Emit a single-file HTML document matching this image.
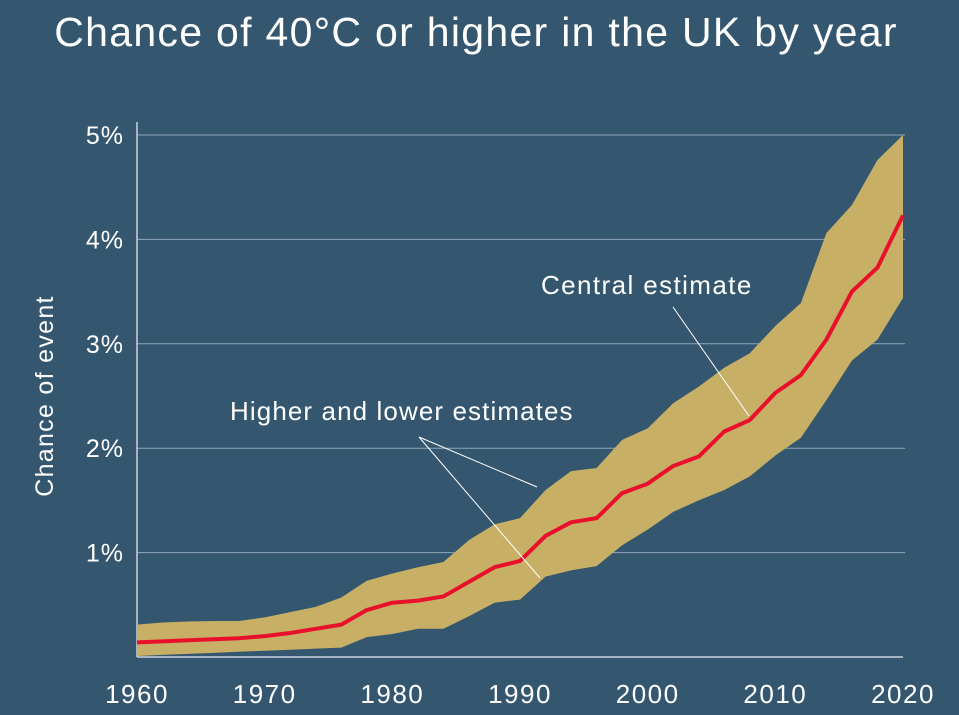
<!DOCTYPE html>
<html><head><meta charset="utf-8">
<style>
html,body{margin:0;padding:0;background:#34576f;}
svg{display:block;font-family:"Liberation Sans",sans-serif;}
</style></head>
<body>
<svg id="chart" width="959" height="715" viewBox="0 0 959 715" xmlns="http://www.w3.org/2000/svg">
<rect width="959" height="715" fill="#34576f"/>
<text x="476" y="46" text-anchor="middle" font-size="41" letter-spacing="1.3" fill="#ffffff">Chance of 40°C or higher in the UK by year</text>
<text transform="translate(53,396) rotate(-90)" text-anchor="middle" font-size="25" letter-spacing="1.3" fill="#ffffff">Chance of event</text>
<g id="grid"></g>
<g id="marks"></g>
<g id="annot"></g>
</svg>
<script>
const years=[1960,1962,1964,1966,1968,1970,1972,1974,1976,1978,1980,1982,1984,1986,1988,1990,1992,1994,1996,1998,2000,2002,2004,2006,2008,2010,2012,2014,2016,2018,2020];
const central=[0.14,0.15,0.16,0.17,0.18,0.20,0.23,0.27,0.31,0.45,0.52,0.54,0.58,0.72,0.86,0.92,1.16,1.29,1.33,1.57,1.66,1.83,1.92,2.16,2.27,2.53,2.70,3.04,3.50,3.73,4.23];
const upper=[0.31,0.33,0.34,0.345,0.345,0.38,0.43,0.48,0.57,0.73,0.80,0.86,0.91,1.12,1.27,1.33,1.60,1.78,1.81,2.08,2.19,2.43,2.59,2.77,2.91,3.17,3.39,4.06,4.33,4.76,5.00];
const lower=[0.01,0.02,0.03,0.04,0.05,0.06,0.07,0.08,0.09,0.19,0.22,0.27,0.27,0.39,0.52,0.55,0.77,0.83,0.87,1.07,1.22,1.39,1.50,1.60,1.73,1.93,2.10,2.46,2.84,3.04,3.44];
const yTicks=[1,2,3,4,5];
const yTickLabels=["1%","2%","3%","4%","5%"];
const xTicks=[1960,1970,1980,1990,2000,2010,2020];

const NS="http://www.w3.org/2000/svg";
const X0=137,X1=903,Y0=657,Y5=135;
function xs(y){return X0+(y-1960)/60*(X1-X0);}
function ys(v){return Y0-v/5*(Y0-Y5);}
function mk(tag,attrs,parent){const e=document.createElementNS(NS,tag);for(const k in attrs)e.setAttribute(k,attrs[k]);parent.appendChild(e);return e;}
const grid=document.getElementById('grid'),marks=document.getElementById('marks'),annot=document.getElementById('annot');

yTicks.forEach((t,i)=>{
  const l=mk('line',{x1:X0,x2:X1+2,y1:ys(t),y2:ys(t),stroke:'#8fa6b8','stroke-width':1},grid);
  
  
  const tx=mk('text',{x:124,y:ys(t)+9,'text-anchor':'end','font-size':25,'letter-spacing':1,fill:'#ffffff'},grid);
  tx.textContent=yTickLabels[i];
  
  
});
xTicks.forEach(t=>{
  const tx=mk('text',{x:xs(t),y:703,'text-anchor':'middle','font-size':26,'letter-spacing':1.5,fill:'#ffffff'},grid);
  tx.textContent=t;
  
  
});
const ax=mk('line',{x1:X0,x2:X0,y1:122,y2:Y0,stroke:'#c8d4de','stroke-width':1.5},grid);


const bx=mk('line',{x1:X0,x2:X1,y1:Y0,y2:Y0,stroke:'#c8d4de','stroke-width':1.5},grid);



let d='';
years.forEach((y,i)=>{d+=(i?'L':'M')+xs(y)+','+ys(upper[i]);});
for(let i=years.length-1;i>=0;i--)d+='L'+xs(years[i])+','+ys(lower[i]);
d+='Z';
const band=mk('path',{d:d,fill:'#c7b065'},marks);


let dc='';
years.forEach((y,i)=>{dc+=(i?'L':'M')+xs(y)+','+ys(central[i]);});
const cl=mk('path',{d:dc,fill:'none',stroke:'#e8102a','stroke-width':4,'stroke-linejoin':'round'},marks);



[[419,437,537,487],[419,437,540,578],[673,307,749,416]].forEach(p=>{
  const l=mk('line',{x1:p[0],y1:p[1],x2:p[2],y2:p[3],stroke:'#ffffff','stroke-width':1},annot);
  
  
});
const t1=mk('text',{x:541,y:294,'font-size':26,'letter-spacing':1.4,fill:'#ffffff'},annot);
t1.textContent='Central estimate';


const t2=mk('text',{x:230,y:420,'font-size':26,'letter-spacing':1.1,fill:'#ffffff'},annot);
t2.textContent='Higher and lower estimates';


</script>
</body></html>
